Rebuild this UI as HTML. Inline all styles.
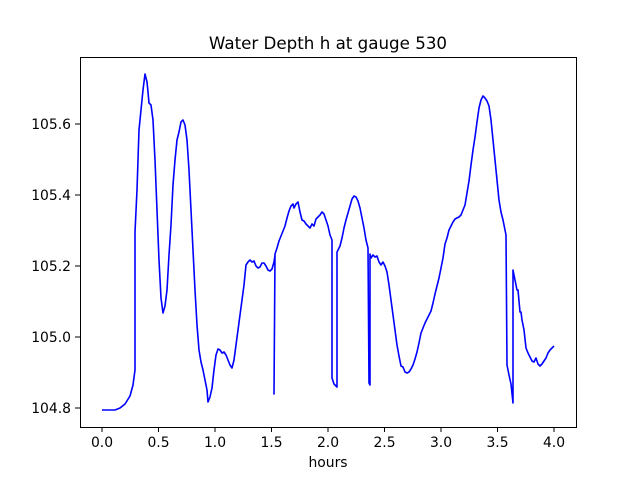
<!DOCTYPE html>
<html><head><style>body{margin:0;background:#fff}svg{display:block}text{font-family:"DejaVu Sans","Liberation Sans",sans-serif;fill:#000}</style></head><body>
<svg width="640" height="480" viewBox="0 0 640 480" xmlns="http://www.w3.org/2000/svg">
<rect width="640" height="480" fill="#fff"/>
<polyline fill="none" stroke="#0000ff" stroke-width="1.6" stroke-linejoin="round" points="102,410 115,410 120,408 125,404 130,396 133,385 135,370 135,232 137,190 139,130 141,110 143,90 145,74 147,82 148,92 149,103 151,105 153,120 155,160 157,210 159,260 161,298 163,313 165,306 167,290 169,255 171,225 173,185 175,160 177,140 179,132 181,122 183,120 185,125 187,140 189,170 191,210 193,250 195,290 197,325 199,350 201,362 203,370 205,380 207,390 208,402 210,397 212,388 214,370 216,355 218,349 220,350 222,353 224,352 226,355 228,360 230,365 232,368 234,360 236,345 238,330 240,315 242,300 244,285 246,265 248,262 250,260 252,262 254,261 256,266 258,268 260,267 262,263 264,263 266,266 268,270 270,271 272,269 274,262 275,255 274,394 275,254 277,248 279,241 281,236 283,231 285,226 287,218 289,211 291,206 293,204 294,208 296,204 298,202 300,212 302,220 304,221 306,224 308,226 310,228 312,224 314,226 316,219 318,217 320,215 322,212 324,214 326,220 328,226 330,235 332,240 332,378 334,384 336,386 337,387 337,252 340,246 342,238 344,228 346,220 348,213 350,206 352,199 354,196 356,197 358,201 360,208 362,218 364,228 366,240 368,248 369,383 370,385 370,254 371,258 373,255 375,257 377,256 379,262 381,265 383,262 385,266 387,272 389,285 391,300 393,315 395,330 397,345 399,356 401,366 403,367 405,372 407,373 409,372 411,369 413,365 415,359 417,352 419,343 421,333 423,328 425,323 427,319 429,315 431,311 433,303 435,294 437,286 439,278 441,268 443,258 445,244 447,238 449,230 451,226 453,222 455,219 457,218 459,217 461,215 463,210 465,205 467,193 469,181 471,165 473,150 475,137 477,122 479,108 481,100 483,96 485,98 487,101 489,106 491,120 493,140 495,160 497,180 499,200 501,212 503,220 505,230 506,235 507,365 509,375 511,384 513,403 513,270 515,280 517,290 518,290 520,312 521,312 522,320 524,330 526,348 528,353 530,357 532,361 534,362 536,358 538,364 540,366 542,364 544,361 546,358 548,353 550,350 554,346"/>
<rect x="80.5" y="57.5" width="496" height="370" fill="none" stroke="#000" stroke-width="1"/>
<g stroke="#000" stroke-width="1">
<line x1="102" y1="427" x2="102" y2="432"/><line x1="158.5" y1="427" x2="158.5" y2="432"/><line x1="215" y1="427" x2="215" y2="432"/><line x1="271.5" y1="427" x2="271.5" y2="432"/><line x1="328" y1="427" x2="328" y2="432"/><line x1="384.5" y1="427" x2="384.5" y2="432"/><line x1="441" y1="427" x2="441" y2="432"/><line x1="497.5" y1="427" x2="497.5" y2="432"/><line x1="554" y1="427" x2="554" y2="432"/>
<line x1="75" y1="408" x2="80" y2="408"/><line x1="75" y1="337" x2="80" y2="337"/><line x1="75" y1="266" x2="80" y2="266"/><line x1="75" y1="195" x2="80" y2="195"/><line x1="75" y1="124" x2="80" y2="124"/>
</g>
<g font-size="13.9" text-anchor="middle">
<text x="102" y="447">0.0</text><text x="158.5" y="447">0.5</text><text x="215" y="447">1.0</text><text x="271.5" y="447">1.5</text><text x="328" y="447">2.0</text><text x="384.5" y="447">2.5</text><text x="441" y="447">3.0</text><text x="497.5" y="447">3.5</text><text x="554" y="447">4.0</text>
</g>
<g font-size="13.9" text-anchor="end">
<text x="71" y="413">104.8</text><text x="71" y="342">105.0</text><text x="71" y="271">105.2</text><text x="71" y="200">105.4</text><text x="71" y="129">105.6</text>
</g>
<text x="328" y="467" font-size="13.9" text-anchor="middle">hours</text>
<text x="328" y="49" font-size="16.7" text-anchor="middle">Water Depth h at gauge 530</text>
</svg>
</body></html>
